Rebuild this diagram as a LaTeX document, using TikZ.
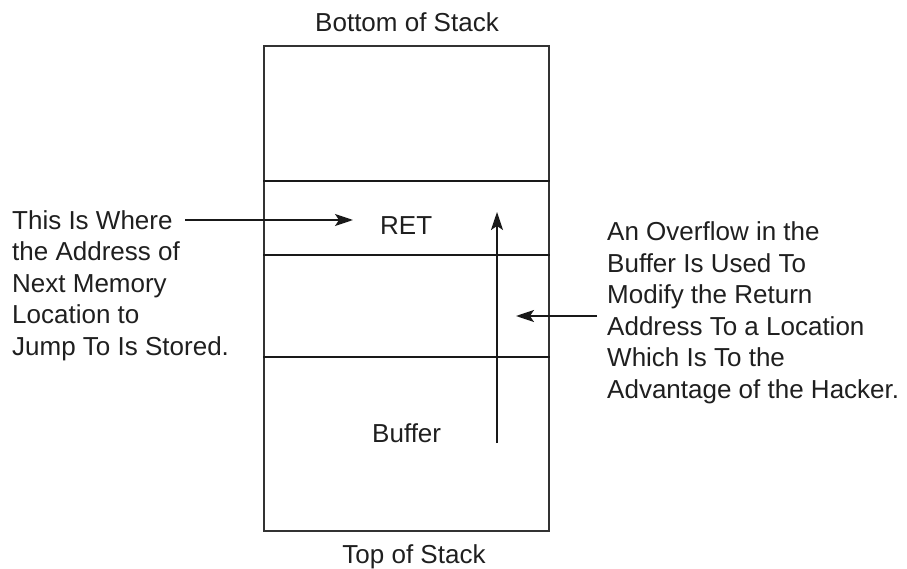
\documentclass[tikz,border=0pt]{standalone}
\usepackage{fontspec}
\setmainfont{Liberation Sans}
\usetikzlibrary{arrows.meta}
\begin{document}
\begin{tikzpicture}[x=1pt,y=-1pt,
  lbl/.style={font=\fontsize{26}{31.5}\selectfont, inner sep=0pt, text=black!88},
  para/.style={lbl, align=left, anchor=base west},
  frame/.style={draw=black!80, line width=1.6pt},
  divider/.style={draw=black!90, line width=2.4pt},
  ptr/.style={draw=black!90, line width=1.8pt, -{Stealth[length=18pt,width=12pt,inset=4pt]}}]
\useasboundingbox (0,0) rectangle (907,569);

% the stack frame
\node[frame, minimum width=285pt, minimum height=485pt, inner sep=0pt,
      anchor=north west] (stack) at (263,45) {};

% borders between the stack regions
\coordinate (d1) at (0,181);
\coordinate (d2) at (0,255);
\coordinate (d3) at (0,357);
\draw[divider] (stack.west |- d1) -- (stack.east |- d1);
\draw[divider] (stack.west |- d2) -- (stack.east |- d2);
\draw[divider] (stack.west |- d3) -- (stack.east |- d3);

% labels (multi-line blocks are placed by the baseline of their last line)
\node[lbl, anchor=base] (bottom) at (407,32) {Bottom of Stack};
\node[lbl, anchor=base] (top) at (414,563) {Top of Stack};
\node[lbl, anchor=base west] (ret) at (380,235) {RET};
\node[lbl, anchor=base west] (buf) at (372,442) {Buffer};
\node[para] (where) at (12,355)
  {This Is Where\\the Address of\\Next Memory\\Location to\\Jump To Is Stored.};
\node[para] (overflow) at (607,398)
  {An Overflow in the\\Buffer Is Used To\\Modify the Return\\Address To a Location\\Which Is To the\\Advantage of the Hacker.};

% pointers
\coordinate (whereEnd) at (185,220);
\coordinate (retSlot) at (353,220);
\coordinate (growStart) at (497,443);
\coordinate (growEnd) at (497,212);
\coordinate (ovStart) at (597,316);
\coordinate (ovEnd) at (516,316);
\draw[ptr] (whereEnd) -- (retSlot);
\draw[ptr] (growStart) -- (growEnd);
\draw[ptr] (ovStart) -- (ovEnd);
\end{tikzpicture}
\end{document}
